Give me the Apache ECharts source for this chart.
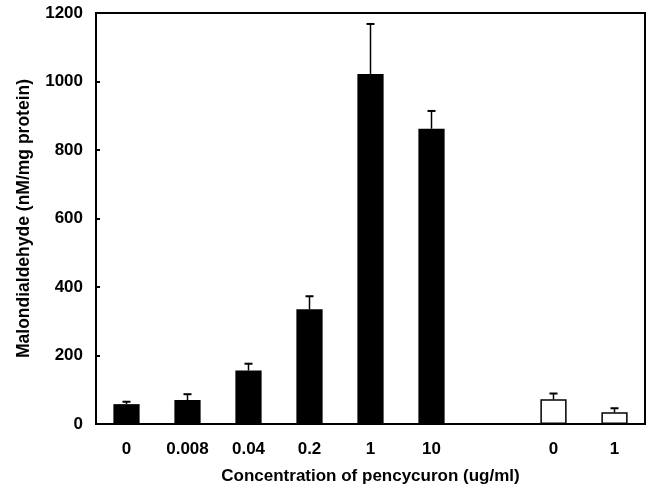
<!DOCTYPE html>
<html>
<head>
<meta charset="utf-8">
<script src="https://cdn.jsdelivr.net/npm/echarts@6/dist/echarts.min.js"></script>
<style>
  html, body { margin: 0; padding: 0; background: #fff; }
  #chart { width: 653px; height: 494px; }
</style>
</head>
<body>
<div id="chart"></div>
<script>
	/*数据*/
	var categories = ['0', '0.008', '0.04', '0.2', '1', '10', '', '0', '1'];
	var mdaValues = [58, 70, 156, 335, 1022, 862, null, 72, 34];
	var mdaErrors = [7, 17, 20, 38, 146, 52, null, 17, 12];
	var controlIndex = [7, 8];//空心柱
	var yTicks = [0, 200, 400, 600, 800, 1000, 1200];

	var myChart = echarts.init(document.getElementById('chart'));

	var barData = mdaValues.map(function (v, i) {
		if (v === null) return '-';
		if (controlIndex.indexOf(i) >= 0) {
			return { value: v, itemStyle: { color: '#fff', borderColor: '#000', borderWidth: 1.5 } };
		}
		return v;
	});

	var errData = [];
	mdaValues.forEach(function (v, i) {
		if (v !== null) errData.push([i, v, v + mdaErrors[i]]);
	});

	var font = 'Liberation Sans, Arial, sans-serif';

	var option = {
		animation: false,
		grid: {
			left: 96, right: 8, top: 13, bottom: 70,
			show: true, borderColor: '#000', borderWidth: 2
		},
		xAxis: {
			type: 'category',
			data: categories,
			name: 'Concentration of pencycuron (ug/ml)',
			nameLocation: 'middle',
			nameGap: 44,
			nameTextStyle: { fontFamily: font, fontWeight: 'bold', fontSize: 17, color: '#000' },
			axisLine: { lineStyle: { color: '#000', width: 2 } },
			axisTick: { inside: true, length: 4, lineStyle: { color: '#000', width: 2 } },
			axisLabel: { fontFamily: font, fontWeight: 'bold', fontSize: 17, color: '#000', margin: 17 }
		},
		yAxis: {
			type: 'value',
			min: yTicks[0],
			max: yTicks[yTicks.length - 1],
			interval: 200,
			name: 'Malondialdehyde (nM/mg protein)',
			nameLocation: 'middle',
			nameGap: 63,
			nameTextStyle: { fontFamily: font, fontWeight: 'bold', fontSize: 17.5, color: '#000' },
			axisLine: { show: true, lineStyle: { color: '#000', width: 2 } },
			axisTick: { show: true, inside: true, length: 4, lineStyle: { color: '#000', width: 2 } },
			splitLine: { show: false },
			axisLabel: {
				fontFamily: font, fontWeight: 'bold', fontSize: 17, color: '#000', margin: 13,
				formatter: function (v) { return String(v); }
			}
		},
		series: [{
			type: 'bar',
			data: barData,
			barWidth: '43%',
			itemStyle: { color: '#000' }
		}, {
			type: 'custom',//误差线
			data: errData,
			encode: { x: 0, y: [1, 2] },
			z: 3,
			renderItem: function (params, api) {
				var p0 = api.coord([api.value(0), api.value(1)]);
				var p1 = api.coord([api.value(0), api.value(2)]);
				var half = 4;
				return {
					type: 'group',
					children: [
						{ type: 'line', shape: { x1: p0[0], y1: p0[1], x2: p1[0], y2: p1[1] }, style: { stroke: '#000', lineWidth: 1.5 } },
						{ type: 'line', shape: { x1: p1[0] - half, y1: p1[1], x2: p1[0] + half, y2: p1[1] }, style: { stroke: '#000', lineWidth: 2 } }
					]
				};
			}
		}]
	};
	myChart.setOption(option);
</script>
</body>
</html>
